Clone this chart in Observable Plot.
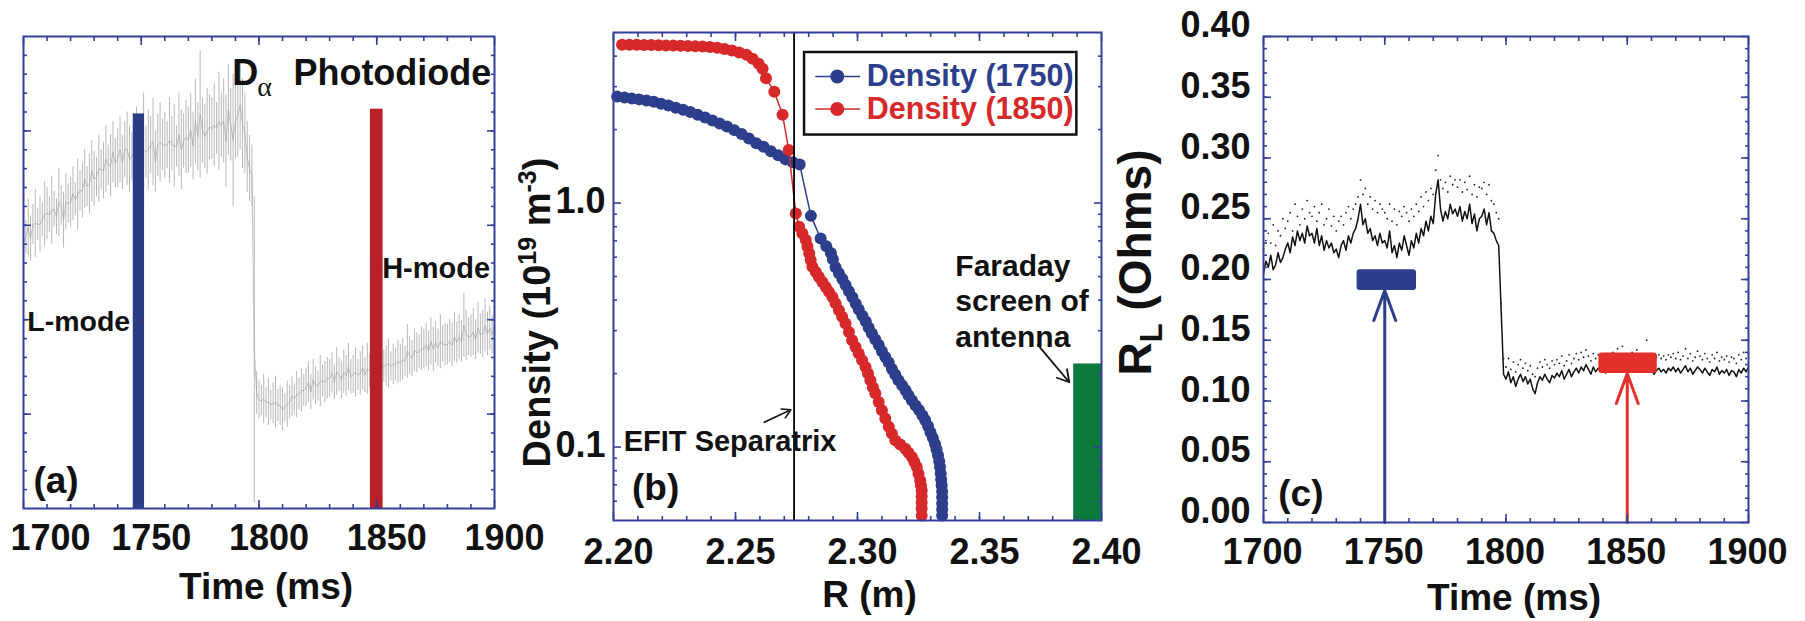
<!DOCTYPE html>
<html><head><meta charset="utf-8">
<script src="https://cdn.jsdelivr.net/npm/d3@7"></script>
<script src="https://cdn.jsdelivr.net/npm/@observablehq/plot@0.6"></script>
<style>
html,body{margin:0;padding:0;background:#fff;}
#chart{position:relative;width:1805px;height:621px;overflow:hidden;background:#fff;}
#chart svg{position:absolute;left:0;top:0;}
</style></head><body><div id="chart"></div>
<script>
// ---------------- data: panel (a) D-alpha photodiode (arb. units, 1 ms samples from 1700 ms)
const dalphaStart = 1700;
const dalphaHi = [
3.12,3.05,3.28,3.10,3.22,3.38,3.18,3.30,3.24,3.46,
3.40,3.30,3.52,3.36,3.28,3.60,3.42,3.35,3.55,3.44,
3.50,3.62,3.45,3.70,3.58,3.66,3.80,3.62,3.75,3.90,
3.78,3.72,3.95,3.80,3.88,4.05,3.85,3.96,4.10,3.92,
4.02,4.15,3.95,4.10,4.20,4.05,3.98,4.12,4.25,4.08,
4.10,4.40,4.05,4.22,4.15,4.35,4.00,4.18,4.30,4.12,
4.20,4.10,4.35,4.15,4.28,4.05,4.40,4.22,4.18,4.32,
4.25,4.40,4.20,4.55,4.30,4.85,4.35,4.28,4.45,4.38,
4.35,4.50,4.30,4.62,4.40,4.55,4.38,4.70,4.45,4.60,
4.50,4.62,4.75,4.55,4.40,4.10,3.95,3.85,
3.30,1.45,
1.35,1.30,1.42,1.28,1.38,1.25,1.33,1.40,1.26,1.30,
1.28,1.22,1.35,1.30,1.40,1.32,1.45,1.38,1.48,1.42,
1.48,1.55,1.42,1.58,1.50,1.46,1.62,1.52,1.56,1.60,
1.58,1.65,1.52,1.70,1.60,1.56,1.68,1.62,1.75,1.58,
1.62,1.70,1.58,1.66,1.72,1.60,1.75,1.64,1.68,1.62,
1.70,1.65,1.76,1.68,1.72,1.80,1.66,1.74,1.70,1.78,
1.74,1.80,1.72,1.95,1.82,1.78,1.90,1.86,1.84,1.92,
1.90,1.96,1.88,2.02,1.92,1.98,1.90,2.05,1.94,1.96,
1.95,2.00,1.96,2.08,1.98,2.05,1.99,2.28,2.10,2.02,
2.05,2.12,2.00,2.18,2.06,2.10,2.22,2.08,2.14,2.04,2.20];
const dalphaLo = [
2.52,2.70,2.68,2.62,2.80,2.66,2.84,2.72,2.88,2.78,
2.85,2.92,2.80,2.98,2.90,2.88,3.00,2.76,2.95,3.02,
2.98,3.05,3.10,2.95,3.15,3.08,3.18,3.20,3.12,3.25,
3.20,3.30,3.25,3.38,3.28,3.35,3.42,3.30,3.45,3.40,
3.40,3.45,3.38,3.50,3.42,3.35,3.48,3.44,3.52,3.40,
3.45,3.20,3.50,3.38,3.55,3.42,3.35,3.52,3.46,3.58,
3.50,3.60,3.45,3.58,3.40,3.62,3.52,3.38,3.60,3.55,
3.55,3.62,3.48,3.65,3.58,3.50,3.66,3.60,3.54,3.70,
3.70,3.62,3.75,3.58,3.72,3.66,3.40,3.74,3.68,3.20,
3.70,3.72,3.80,3.60,3.55,3.35,3.25,3.20,
0.06,1.00,
0.95,0.98,0.90,0.96,0.88,0.94,0.90,0.85,0.92,0.88,
0.82,0.92,0.86,0.95,0.98,1.00,0.96,1.04,1.02,1.08,
1.08,1.12,1.05,1.15,1.10,1.14,1.08,1.18,1.12,1.16,
1.18,1.22,1.15,1.20,1.24,1.16,1.22,1.19,1.25,1.21,
1.22,1.18,1.25,1.20,1.26,1.23,1.21,1.28,1.24,1.30,
1.28,1.32,1.26,1.34,1.30,1.28,1.35,1.31,1.36,1.33,
1.34,1.36,1.40,1.38,1.42,1.40,1.45,1.44,1.48,1.46,
1.48,1.50,1.46,1.52,1.45,1.54,1.50,1.48,1.55,1.51,
1.52,1.55,1.50,1.56,1.54,1.58,1.55,1.60,1.57,1.62,
1.60,1.62,1.58,1.65,1.63,1.60,1.66,1.62,1.68,1.64,1.66];
const modeTimes = [1749, 1850];      // ms, L-mode and H-mode marker bars
const modeBarTops = [4.18, 4.23];

// ---------------- data: panel (b) density profiles
const densR1750 = [
2.2015,2.2045,2.2075,2.2105,2.2135,2.2165,2.2195,2.2225,2.2255,2.2285,2.2315,2.2345,2.2375,2.2405,2.2435,2.2465,2.2495,2.2525,2.2555,2.2585,2.2615,2.2645,2.2675,2.2705,2.2735,2.2763,
2.2809,2.2849,2.2872,2.2891,
2.2899,2.2910,2.2924,2.2938,2.2951,2.2965,2.2979,2.2993,2.3005,2.3020,2.3034,2.3046,2.3059,2.3073,2.3087,2.3100,2.3114,2.3128,2.3141,2.3155,2.3168,2.3183,2.3197,2.3209,2.3223,2.3238,2.3252,2.3266,2.3277,2.3289,2.3299,2.3309,2.3318,2.3324,2.3330,2.3335,2.3338,2.3341,2.3343,2.3345,2.3347,2.3347,2.3347,2.3347,2.3347];
const dens1750 = [
2.73,2.71,2.68,2.66,2.63,2.60,2.55,2.51,2.46,2.41,2.36,2.30,2.24,2.18,2.12,2.06,1.99,1.92,1.84,1.76,1.70,1.63,1.57,1.51,1.47,1.44,
0.886,0.716,0.665,0.6235,
0.589,0.546,0.516,0.488,0.461,0.435,0.411,0.387,0.366,0.345,0.327,0.308,0.292,0.276,0.262,0.247,0.234,0.222,0.209,0.198,0.188,0.179,0.171,0.163,0.155,0.148,0.142,0.135,0.129,0.122,0.115,0.109,0.103,0.098,0.0925,0.0874,0.0828,0.0780,0.0737,0.0697,0.0658,0.0622,0.0587,0.0555,0.0524];
const densR1850 = [
2.2035,2.2065,2.2095,2.2125,2.2155,2.2185,2.2215,2.2245,2.2275,2.2305,2.2335,2.2365,2.2395,2.2425,2.2455,2.2485,2.2515,2.2545,2.2570,2.2595,2.2611,2.2625,2.2659,2.2693,2.2718,2.2747,
2.2761,2.2774,2.2788,2.2795,2.2802,2.2808,2.2815,2.2829,2.2842,2.2856,2.2870,2.2883,2.2897,2.2910,2.2924,2.2937,2.2951,2.2965,2.2978,2.2992,2.3005,2.3019,2.3033,2.3043,2.3053,2.3063,2.3073,2.3087,2.3100,2.3114,2.3128,2.3141,2.3155,2.3175,2.3196,2.3209,2.3223,2.3233,2.3243,2.3250,2.3257,2.3260,2.3263,2.3263,2.3263,2.3263,2.3263];
const dens1850 = [
4.45,4.45,4.45,4.44,4.44,4.43,4.42,4.42,4.41,4.40,4.39,4.38,4.36,4.33,4.28,4.22,4.14,4.05,3.90,3.72,3.55,3.25,2.86,2.30,1.65,0.907,
0.799,0.751,0.705,0.663,0.622,0.584,0.548,0.522,0.498,0.475,0.453,0.4325,0.4125,0.388,0.364,0.342,0.321,0.296,0.274,0.257,0.242,0.227,0.213,0.200,0.188,0.176,0.166,0.153,0.1415,0.131,0.121,0.1135,0.1065,0.1024,0.0985,0.0947,0.0910,0.0868,0.0828,0.0778,0.0730,0.0697,0.0664,0.0628,0.0593,0.0560,0.0524];
const separatrixR = 2.274;
const antennaR = [2.3886, 2.40];
const antennaTop = 0.219;

// ---------------- data: panel (c) loading resistance R_L (Ohms, 1 ms samples from 1700 ms)
const rlStart = 1700;
const rlLine = [
.205,.215,.210,.220,.208,.212,.222,.214,.218,.225,
.230,.222,.235,.228,.240,.232,.238,.230,.244,.236,
.238,.230,.242,.228,.236,.224,.232,.226,.230,.222,
.225,.218,.228,.232,.224,.236,.230,.238,.242,.250,
.262,.245,.250,.238,.242,.232,.236,.228,.238,.230,
.232,.226,.240,.222,.228,.218,.230,.224,.236,.228,
.220,.232,.226,.238,.230,.242,.236,.248,.240,.252,
.246,.270,.282,.258,.248,.256,.250,.262,.254,.258,
.252,.260,.248,.256,.250,.262,.246,.254,.240,.250,
.252,.258,.245,.255,.240,.238,.232,.228,
.175,.122,
.118,.124,.115,.120,.112,.118,.122,.116,.120,.114,
.118,.110,.106,.115,.120,.117,.122,.118,.115,.121,
.119,.123,.120,.125,.118,.122,.126,.120,.124,.127,
.123,.128,.125,.130,.126,.122,.128,.124,.127,.125,
.126,.123,.127,.125,.128,.124,.127,.126,.129,.125,
.127,.124,.128,.126,.130,.125,.128,.127,.131,.126,
.128,.122,.125,.127,.124,.126,.123,.127,.125,.128,
.124,.127,.123,.126,.129,.124,.127,.122,.125,.128,
.126,.123,.127,.124,.121,.126,.124,.128,.122,.125,
.123,.126,.121,.125,.124,.120,.126,.123,.127,.124,.128];
const rlDots = [
.225,.232,.238,.230,.245,.228,.240,.236,.250,.242,
.248,.255,.240,.262,.252,.245,.258,.250,.265,.255,
.252,.260,.248,.255,.262,.245,.250,.258,.244,.252,
.240,.248,.252,.245,.255,.260,.250,.258,.262,.268,
.282,.270,.275,.262,.268,.258,.265,.255,.262,.258,
.255,.250,.262,.248,.258,.245,.256,.252,.260,.255,
.248,.258,.252,.262,.256,.268,.260,.272,.265,.275,
.270,.290,.302,.282,.275,.280,.272,.285,.278,.282,
.276,.282,.272,.280,.274,.285,.270,.278,.268,.276,
.275,.280,.270,.278,.265,.262,.255,.250,
.180,.135,
.128,.135,.126,.132,.124,.130,.134,.127,.131,.125,
.129,.122,.120,.127,.132,.128,.134,.130,.127,.133,
.130,.134,.131,.137,.129,.133,.138,.131,.135,.139,
.134,.140,.136,.142,.137,.133,.139,.135,.138,.136,
.137,.134,.139,.136,.140,.135,.143,.137,.145,.136,
.138,.135,.140,.137,.142,.136,.139,.138,.150,.137,
.139,.133,.136,.138,.135,.137,.134,.138,.136,.139,
.135,.140,.134,.137,.143,.135,.139,.133,.136,.141,
.137,.134,.139,.135,.132,.138,.135,.140,.133,.136,
.134,.137,.132,.136,.135,.131,.138,.134,.140,.135,.139];
const windowStart = [1738.6, 1838.3];
const windowEnd   = [1763.1, 1862.4];
const windowLow   = [0.191, 0.1227];
const windowHigh  = [0.208, 0.1395];
const arrowTimes  = [1750, 1850];

// ---------------- tick labels
const ticksTimeA = [1700, 1750, 1800, 1850, 1900];
const ticksR = [2.20, 2.25, 2.30, 2.35, 2.40];
const ticksDens = [0.1, 1];
const ticksRL = [0, 0.05, 0.10, 0.15, 0.20, 0.25, 0.30, 0.35, 0.40];

// ---------------- style
const W = 1805, H = 621;
const FRAME = "#33409a";
const BLUE = "#2c3e8c", RED = "#d7282a";
const SANS = "'Liberation Sans',Arial,Helvetica,sans-serif";
const INK = "#111";

const dalpha = dalphaHi.map((hi, i) => ({t: dalphaStart + i, hi, lo: dalphaLo[i]}));
const rl = rlLine.map((v, i) => ({t: rlStart + i, v, dot: rlDots[i]}));
const d1750 = densR1750.map((r, i) => ({r, n: dens1750[i]}));
const d1850 = densR1850.map((r, i) => ({r, n: dens1850[i]}));

function frameTicks(xMinor, xMajor, yMinor, yMajor) {
  const o = {stroke: FRAME, strokeWidth: 1.6, fill: "none", label: null};
  return [
    Plot.axisX(xMinor, {...o, anchor: "bottom", tickSize: -4}),
    Plot.axisX(xMinor, {...o, anchor: "top", tickSize: -4}),
    Plot.axisX(xMajor, {...o, anchor: "bottom", tickSize: -8}),
    Plot.axisX(xMajor, {...o, anchor: "top", tickSize: -8}),
    Plot.axisY(yMinor, {...o, anchor: "left", tickSize: -4}),
    Plot.axisY(yMinor, {...o, anchor: "right", tickSize: -4}),
    Plot.axisY(yMajor, {...o, anchor: "left", tickSize: -8}),
    Plot.axisY(yMajor, {...o, anchor: "right", tickSize: -8}),
    Plot.frame({stroke: FRAME, strokeWidth: 2})
  ];
}
function note(x, y, s, opts = {}) {
  return Plot.text([{x, y, s}], {x: "x", y: "y", text: "s", textAnchor: "start", lineAnchor: "middle",
    fontFamily: SANS, fontWeight: "bold", fontSize: 29, fill: INK, ...opts});
}
const tickText = {lineAnchor: "middle", fontFamily: SANS, fontWeight: "bold", fontSize: 36, fill: INK};
const titleText = {lineAnchor: "middle", textAnchor: "middle", fontFamily: SANS, fontWeight: "bold", fontSize: 37, fill: INK, text: d => d};
const baseStyle = {background: "transparent", overflow: "visible"};

// ---------------- panel (a)
const pA = Plot.plot({
  width: W, height: H, marginLeft: 23, marginRight: W - 494, marginTop: 36, marginBottom: H - 508,
  x: {domain: [1700, 1900]}, y: {domain: [0, 5]}, style: baseStyle,
  marks: [
    Plot.ruleX(dalpha, {x: "t", y1: "lo", y2: "hi", stroke: "#b8b8b8", strokeWidth: 1}),
    Plot.line(dalpha, {x: "t", y: d => (d.lo + d.hi) / 2, stroke: "#9a9a9a", strokeWidth: 0.6}),
    Plot.rect([{t: modeTimes[0], top: modeBarTops[0]}], {x1: d => d.t - 2.4, x2: d => d.t + 2.4, y1: () => 0, y2: "top", fill: "#2b3d82"}),
    Plot.rect([{t: modeTimes[1], top: modeBarTops[1]}], {x1: d => d.t - 2.7, x2: d => d.t + 2.7, y1: () => 0, y2: "top", fill: "#b8202a"}),
    ...frameTicks(d3.range(1710, 1900, 10), ticksTimeA, d3.range(0.2, 5, 0.2), [1, 2, 3, 4]),
    Plot.text(ticksTimeA.slice(0, 1), {...tickText, x: d => d, text: d => String(d), frameAnchor: "bottom", dy: 30, dx: 27}),
    Plot.text(ticksTimeA.slice(1), {...tickText, x: d => d, text: d => String(d), frameAnchor: "bottom", dy: 30, dx: 10}),
    Plot.text(["Time (ms)"], {...titleText, frameAnchor: "bottom", dx: 7, dy: 79}),
    note(1788.6, 4.605, "D", {fontSize: 36}),
    note(1799.3, 4.465, "α", {fontSize: 28, fontWeight: "normal", fontFamily: "'Liberation Serif','DejaVu Serif',serif"}),
    note(1814.6, 4.608, "Photodiode", {fontSize: 36}),
    note(1852.3, 2.542, "H-mode", {fontSize: 29}),
    note(1701.6, 1.981, "L-mode", {fontSize: 28.5}),
    note(1704.2, 0.286, "(a)", {fontSize: 37})
  ]
});

// ---------------- panel (b)
const pB = Plot.plot({
  width: W, height: H, marginLeft: 613, marginRight: W - 1101, marginTop: 32, marginBottom: H - 520,
  x: {domain: [2.20, 2.40]}, y: {type: "log", domain: [0.05, 5]}, style: baseStyle,
  marks: [
    Plot.rect([{x1: antennaR[0], x2: antennaR[1], top: antennaTop}], {x1: "x1", x2: "x2", y1: () => 0.05, y2: "top", fill: "#0c7a3c"}),
    Plot.line(d1750, {x: "r", y: "n", stroke: BLUE, strokeWidth: 1.5}),
    Plot.dot(d1750, {x: "r", y: "n", r: 6, fill: BLUE}),
    Plot.line(d1850, {x: "r", y: "n", stroke: RED, strokeWidth: 1.5}),
    Plot.dot(d1850, {x: "r", y: "n", r: 6, fill: RED}),
    Plot.ruleX([separatrixR], {stroke: "#000", strokeWidth: 1.8}),
    ...frameTicks(d3.range(2.21, 2.40, 0.01), ticksR, [0.06, 0.07, 0.08, 0.09, 0.2, 0.3, 0.4, 0.5, 0.6, 0.7, 0.8, 0.9, 2, 3, 4], ticksDens),
    Plot.text(ticksR, {...tickText, x: d => d, text: d3.format(".2f"), frameAnchor: "bottom", dy: 32, dx: 5}),
    Plot.text(ticksDens, {...tickText, y: d => d, text: d3.format(".1f"), frameAnchor: "left", textAnchor: "end", dx: -8, dy: -2}),
    Plot.text(["R (m)"], {...titleText, frameAnchor: "bottom", dx: 12, dy: 75}),
    Plot.text(["DENSITY_TITLE"], {...titleText, fontSize: 38, frameAnchor: "left", rotate: -90, dx: -76, dy: 36}),
    // legend
    Plot.rect([{x1: 2.2783, x2: 2.3899, y1: 1.90, y2: 4.14}], {x1: "x1", x2: "x2", y1: "y1", y2: "y2", fill: "white", stroke: "#111", strokeWidth: 2.5}),
    Plot.ruleY([{y: 3.30}], {y: "y", x1: () => 2.2829, x2: () => 2.3013, stroke: BLUE, strokeWidth: 1.5}),
    Plot.dot([{x: 2.2917, y: 3.30}], {x: "x", y: "y", r: 7, fill: BLUE}),
    note(2.3038, 3.30, "Density (1750)", {fill: BLUE, fontSize: 30.5}),
    Plot.ruleY([{y: 2.43}], {y: "y", x1: () => 2.2829, x2: () => 2.3013, stroke: RED, strokeWidth: 1.5}),
    Plot.dot([{x: 2.2917, y: 2.43}], {x: "x", y: "y", r: 7, fill: RED}),
    note(2.3038, 2.43, "Density (1850)", {fill: RED, fontSize: 30.5}),
    // annotations
    note(2.2042, 0.1048, "EFIT Separatrix"),
    Plot.arrow([{x1: 2.2618, y1: 0.1263, x2: 2.2727, y2: 0.1421}], {x1: "x1", y1: "y1", x2: "x2", y2: "y2", stroke: "#111", strokeWidth: 1.6, headLength: 10}),
    note(2.2076, 0.0677, "(b)", {fontSize: 37}),
    note(2.3401, 0.551, "Faraday", {fontSize: 30}),
    note(2.3401, 0.396, "screen of", {fontSize: 30}),
    note(2.3401, 0.2818, "antenna", {fontSize: 30}),
    Plot.arrow([{x1: 2.3739, y1: 0.2624, x2: 2.3868, y2: 0.1843}], {x1: "x1", y1: "y1", x2: "x2", y2: "y2", stroke: "#111", strokeWidth: 1.8, headLength: 11})
  ]
});

// ---------------- panel (c)
const windows = windowStart.map((s, i) => ({x1: s, x2: windowEnd[i], y1: windowLow[i], y2: windowHigh[i], t: arrowTimes[i]}));
const pC = Plot.plot({
  width: W, height: H, marginLeft: 1263, marginRight: W - 1748, marginTop: 36, marginBottom: H - 522,
  x: {domain: [1700, 1900]}, y: {domain: [0, 0.40]}, style: baseStyle,
  marks: [
    Plot.line(rl, {x: "t", y: "v", stroke: "#111", strokeWidth: 1.5}),
    Plot.dot(rl, {x: "t", y: "dot", r: 0.9, fill: "#222", stroke: "none"}),
    Plot.rect(windows.slice(0, 1), {x1: "x1", x2: "x2", y1: "y1", y2: "y2", fill: BLUE, rx: 3}),
    Plot.rect(windows.slice(1), {x1: "x1", x2: "x2", y1: "y1", y2: "y2", fill: "#e3302b", rx: 3}),
    Plot.arrow(windows.slice(0, 1), {x1: "t", y1: () => 0, x2: "t", y2: "y1", stroke: BLUE, strokeWidth: 3, headLength: 16, headAngle: 40}),
    Plot.arrow(windows.slice(1), {x1: "t", y1: () => 0, x2: "t", y2: "y1", stroke: "#e3302b", strokeWidth: 3, headLength: 16, headAngle: 40}),
    ...frameTicks(d3.range(1710, 1900, 10), ticksTimeA, d3.range(0.01, 0.4, 0.01), ticksRL),
    Plot.text(ticksTimeA, {...tickText, x: d => d, text: d => String(d), frameAnchor: "bottom", dy: 30, dx: -1}),
    Plot.text(ticksRL, {...tickText, y: d => d, text: d3.format(".2f"), frameAnchor: "left", textAnchor: "end", dx: -13, dy: -11}),
    Plot.text(["Time (ms)"], {...titleText, frameAnchor: "bottom", dx: 8, dy: 76}),
    Plot.text(["RL_TITLE"], {...titleText, fontSize: 46, frameAnchor: "left", rotate: -90, dx: -127, dy: -17}),
    note(1706.1, 0.0236, "(c)", {fontSize: 37})
  ]
});

// rich text (super/subscripts) as real SVG tspans
function richText(svg, key, parts) {
  d3.select(svg).selectAll("text").filter(function() { return this.textContent === key; }).each(function() {
    const el = d3.select(this);
    el.text(null);
    let shift = 0;
    for (const p of parts) {
      const ts = el.append("tspan").text(p.s);
      const target = p.dy || 0;
      if (target !== shift) { ts.attr("dy", target - shift); shift = target; }
      if (p.size) ts.attr("font-size", p.size);
    }
  });
}
richText(pB, "DENSITY_TITLE", [{s: "Density (10"}, {s: "19", dy: -14, size: 25}, {s: " m"}, {s: "-3", dy: -14, size: 25}, {s: ")"}]);
richText(pC, "RL_TITLE", [{s: "R"}, {s: "L", dy: 11, size: 31}, {s: " (Ohms)"}]);

const chart = document.getElementById("chart");
chart.append(pA, pB, pC);
</script></body></html>
